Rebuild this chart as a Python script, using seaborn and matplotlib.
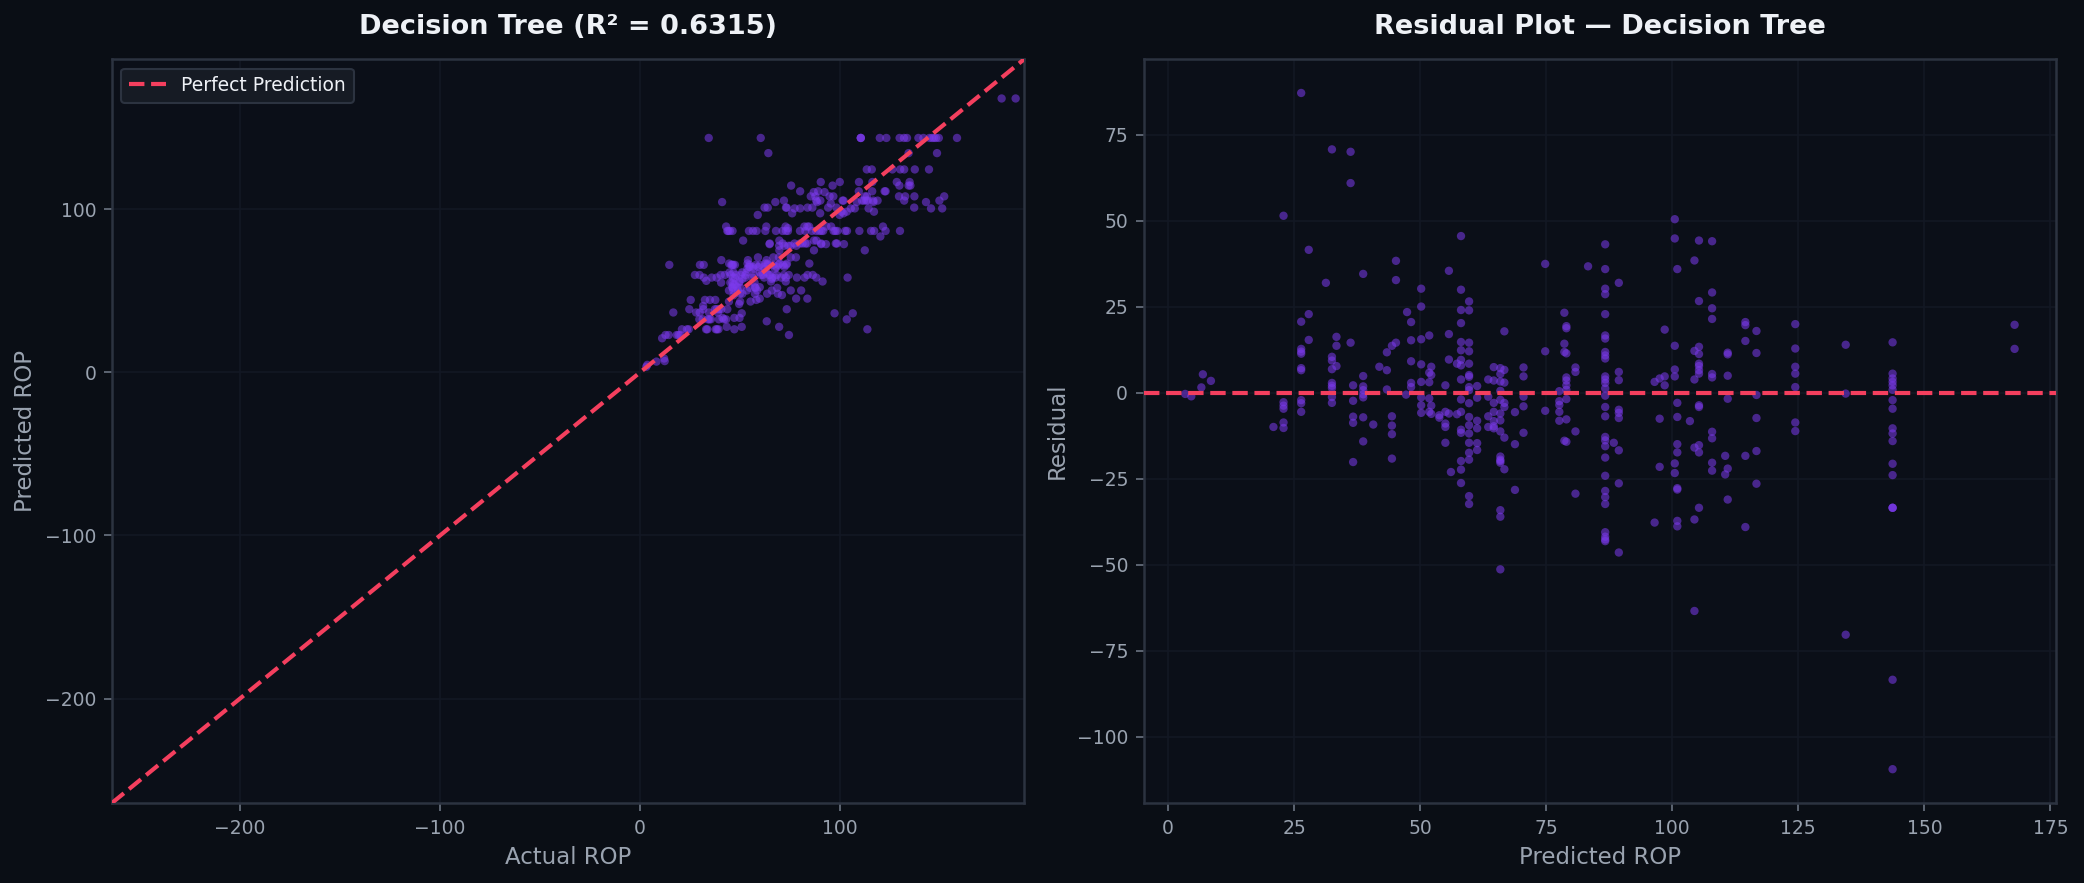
import numpy as np
import pandas as pd
import matplotlib
matplotlib.use("Agg")
import matplotlib.pyplot as plt
import seaborn as sns

# leaf values of the tree (predicted ROP) and the residuals seen at each leaf
leaf_pred = [3.4, 4.6, 6.6, 6.9, 8.5, 20.9, 22.9, 26.4, 27.9, 31.3, 32.5, 33.4,
             36.2, 36.7, 38.7, 40.7, 41.9, 43.4, 44.4, 45.2, 47.2, 47.4, 48.2,
             50.2, 51.8, 52.2, 53.8, 55.0, 55.7, 56.1, 57.3, 58.1, 59.7, 61.3,
             63.5, 64.6, 65.9, 66.7, 68.8, 70.5, 74.8, 77.6, 78.6, 79.0, 80.8,
             83.3, 86.7, 88.4, 89.4, 96.5, 97.5, 98.5, 100.5, 101.0, 103.5,
             104.4, 105.3, 107.9, 110.5, 111.0, 114.5, 116.7, 124.4, 134.4,
             143.7, 167.9]

leaf_resid = [
    [-0.3], [-1.0], [1.6], [5.4], [3.5], [-9.9],
    [51.5, -2.7, -3.7, -4.6, -8.6, -10.2],
    [87.2, 20.7, 12.8, 12.0, 11.4, 7.2, 6.6, -2.1, -3.0, -5.5],
    [41.6, 22.9, 15.4],
    [32.0],
    [70.8, 10.5, 9.4, 6.9, 2.9, 2.1, 1.4, -1.2, -2.9],
    [16.3, 13.7, 7.8],
    [70.1, 61.0, 14.6],
    [2.2, -2.3, -6.9, -8.7, -20.1],
    [34.6, 4.9, 1.9, 0.8, -0.4, -1.3, -7.1, -14.1],
    [-9.2],
    [7.6],
    [11.8, 6.6, 1.0],
    [13.7, -6.8, -9.5, -12.0, -19.1],
    [38.4, 32.8, 14.6],
    [-0.5],
    [23.5],
    [20.6, 15.3, 9.2, 2.9, 1.7],
    [30.3, 25.1, 15.6, 8.3, 3.2, -1.3, -3.6, -5.8],
    [16.7, 5.9, 3.1, -1.6, -5.5],
    [7.6, 5.2, -3.7, -6.1],
    [-6.5, -7.2],
    [2.2, -5.5, -8.9, -9.9, -14.5],
    [35.5, 17.1, 9.7, -6.0],
    [-23.0],
    [8.5, -6.2],
    [45.6, 30.0, 24.1, 20.3, 14.8, 12.4, 9.6, 8.0, 3.9, -1.9, -5.5, -10.7,
     -11.6, -19.8, -22.3, -26.2],
    [26.6, 24.0, 14.6, 12.1, 8.5, 5.2, 4.7, 1.7, 0.8, -3.0, -7.0, -9.4, -11.8,
     -14.5, -17.4, -19.4, -30.0, -32.3],
    [2.0, -1.4, -8.1, -10.3, -14.6, -16.6],
    [3.9, -1.1, -6.8, -9.9],
    [7.5, 3.6, -2.9, -5.5, -8.2, -9.7, -10.3],
    [7.2, 5.5, 3.3, 0.6, -2.0, -6.0, -8.0, -11.2, -18.5, -19.4, -19.8, -20.3,
     -34.1, -36.0, -51.3],
    [17.9, 6.7, 3.0, -2.9, -4.1, -13.0, -22.2],
    [-5.6, -14.9, -28.2],
    [7.4, 4.8, -1.1, -3.9, -11.6],
    [37.5, 12.1, -5.2],
    [0.5, -2.4, -3.5, -5.5, -8.1],
    [23.3, 14.3, 11.9, -13.9],
    [19.4, 18.8, 11.5, 4.5, 3.6, 2.2, 0.9, -1.8, -7.7, -14.2],
    [7.4, 6.1, -11.2, -29.3],
    [36.8],
    [43.2, 36.0, 30.3, 28.7, 22.9, 16.7, 15.8, 11.9, 10.9, 10.0, 4.8, 3.9, 2.9,
     1.3, -0.8, -4.1, -6.8, -12.8, -13.8, -15.5, -18.8, -24.1, -28.5, -30.3,
     -32.3, -40.5, -41.8, -42.6, -43.1],
    [-14.5],
    [32.0, 6.1, 3.7, -4.9, -5.8, -7.3, -16.7, -26.3, -46.4],
    [3.2, -37.7],
    [4.2, -7.5, -21.5],
    [18.4, 4.8, 2.2],
    [50.5, 44.9, 13.7, 6.8, 4.8, -20.5, -23.3],
    [36.0, -2.9, -7.0, -14.9, -17.3, -27.7, -28.1, -37.2, -38.8],
    [-8.2],
    [38.5, 12.2, 3.9, -15.9, -36.8, -63.4],
    [44.3, 26.7, 13.4, 11.3, 8.5, 7.8, 6.6, 5.6, -3.6, -4.1, -15.2, -17.3, -33.4],
    [44.1, 29.2, 24.6, 21.5, 5.5, 4.5, -11.3, -13.2, -20.3, -22.6],
    [-18.3, -23.7],
    [11.7, 11.2, 5.0, -1.7, -22.0, -31.0],
    [20.6, 19.7, 15.1, -18.3, -39.0],
    [18.0, 11.6, -0.6, -7.3, -16.9, -26.4],
    [20.0, 12.9, 7.6, 5.6, 1.7, -8.6, -11.1],
    [14.0, -0.2, -70.3],
    [14.7, 5.6, 4.2, 3.2, 2.2, 0.9, -2.1, -4.6, -10.3, -11.8, -14.0, -20.6,
     -23.9, -33.4, -33.4, -33.4, -83.4, -109.4],
    [19.8, 12.8],
]

r2_score = 0.6315
lims = [-264, 192]

rows = []
for p, rs in zip(leaf_pred, leaf_resid):
    for r in rs:
        rows.append((p, r))
df = pd.DataFrame(rows, columns=["pred", "resid"])
df["actual"] = df["pred"] + df["resid"]

BG = "#0a0e15"
AX_BG = "#0b0f18"
EDGE = "#2c3340"
TXT = "#9aa3b0"
TITLE = "#eef1f6"
PURPLE = "#7c3aed"
ROSE = "#f43f5e"
GRID = "#131824"

sns.set_style("dark", {
    "axes.facecolor": AX_BG,
    "figure.facecolor": BG,
    "axes.edgecolor": EDGE,
    "grid.color": GRID,
    "xtick.color": TXT,
    "ytick.color": TXT,
    "text.color": TXT,
    "axes.labelcolor": TXT,
})
plt.rcParams["font.family"] = ["DejaVu Sans"]
plt.rcParams["xtick.bottom"] = True
plt.rcParams["ytick.left"] = True

fig, (ax1, ax2) = plt.subplots(1, 2, figsize=(2084 / 150, 883 / 150), dpi=150)
fig.subplots_adjust(left=0.0537, right=0.9866, bottom=0.0906, top=0.933, wspace=0.131)

# left: actual vs predicted
sns.scatterplot(data=df, x="actual", y="pred", ax=ax1, color=PURPLE,
                alpha=0.55, s=16, edgecolor="none", zorder=3)
ax1.plot(lims, lims, "--", color=ROSE, lw=2, label="Perfect Prediction", zorder=4)
ax1.set_xlim(lims)
ax1.set_ylim(lims)
ax1.set_title(f"Decision Tree (R\u00b2 = {r2_score:.4f})", color=TITLE,
              fontsize=13, fontweight="bold", pad=12)
ax1.set_xlabel("Actual ROP", fontsize=11)
ax1.set_ylabel("Predicted ROP", fontsize=11)
leg = ax1.legend(loc="upper left", fontsize=9, facecolor="#161b24",
                 edgecolor=EDGE, framealpha=1)
for t in leg.get_texts():
    t.set_color(TITLE)

# right: residuals
sns.scatterplot(data=df, x="pred", y="resid", ax=ax2, color=PURPLE,
                alpha=0.55, s=16, edgecolor="none", zorder=3)
ax2.axhline(0, ls="--", color=ROSE, lw=2, zorder=4)
ax2.set_title("Residual Plot \u2014 Decision Tree", color=TITLE,
              fontsize=13, fontweight="bold", pad=12)
ax2.set_xlabel("Predicted ROP", fontsize=11)
ax2.set_ylabel("Residual", fontsize=11)

for ax in (ax1, ax2):
    ax.grid(True, color=GRID, lw=0.8)
    ax.tick_params(labelsize=9, length=4, color="#6b7482")
    for s in ax.spines.values():
        s.set_color(EDGE)
        s.set_linewidth(1.2)

fig.savefig("out.png", dpi=150, facecolor=BG)
